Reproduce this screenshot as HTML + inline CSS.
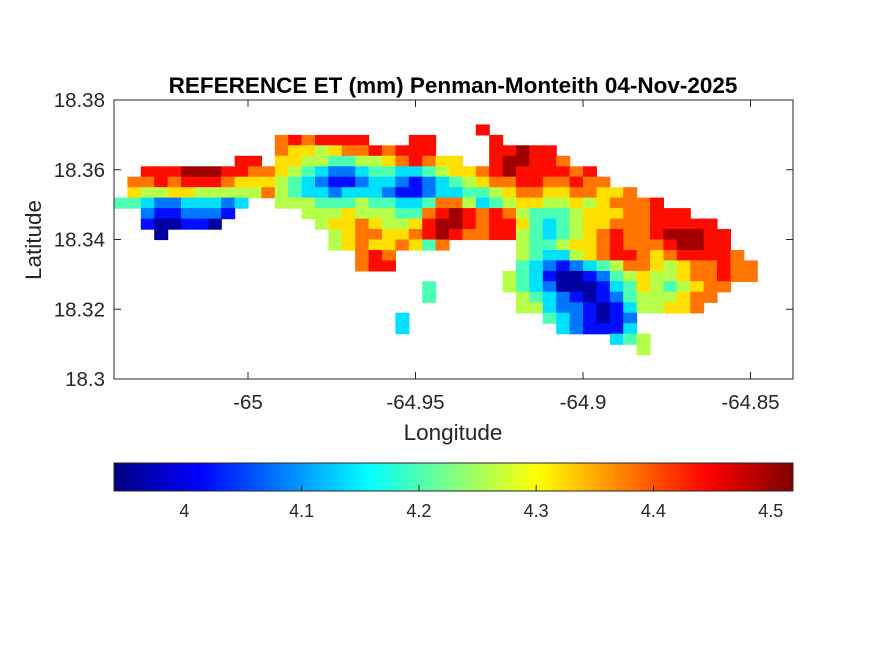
<!DOCTYPE html>
<html><head><meta charset="utf-8"><style>
body{margin:0;background:#fff;}
svg{display:block;font-family:"Liberation Sans",Arial,sans-serif;}
</style></head><body>
<svg id="fig" width="875" height="656" viewBox="0 0 875 656">
<rect width="875" height="656" fill="#fff"/>
<text x="453" y="93" text-anchor="middle" font-size="22.5" font-weight="bold" fill="#000">REFERENCE ET (mm) Penman-Monteith 04-Nov-2025</text>
<g id="map"></g>
<rect x="114" y="100" width="679" height="279" fill="none" stroke="#262626" stroke-width="1"/>
<g id="axes"></g>
<text x="453" y="440" text-anchor="middle" font-size="22.5" fill="#262626">Longitude</text>
<text transform="translate(41,240) rotate(-90)" text-anchor="middle" font-size="22.5" fill="#262626">Latitude</text>
<defs><linearGradient id="jetgrad" x1="0" x2="1" y1="0" y2="0"></linearGradient></defs>
<rect x="114" y="463" width="679" height="28" fill="url(#jetgrad)" stroke="#262626" stroke-width="1"/>
<g id="cbaxis"></g>
</svg>
<script>
// ---- data ----
const lonStart = -65.040, lonStep = 0.004;
const latTop = 18.373, latStep = 0.003;
const levelValues = [3.96,4.02,4.08,4.14,4.20,4.26,4.32,4.38,4.44,4.50];
// each row: [startColumn, level codes ('.' = no data)]
const gridRows = [
[27,"8"],
[12,"7878888...88....8"],
[12,"766567787888....88988"],
[9,"88.66554455678766..899887"],
[2,"888999887"+"7"+"65432234433456"+"67"+"89888878"],
[1,"778788876665432112332123456778877877"],
[1,"6556655555"+"7543323332"+"1123344567"+"76677667"],
[0,"4432233323"+"..55544454"+"4334775345"+"6655656777"+"8"],
[2,"2112221."+"...."+"555655544"+"7898787544456"+"6677888"],
[2,"100110"+"......."+"5667655689"+"9878864345"+"6677788888"],
[3,"0"+"............"+"5677667898"+"7788543456"+"7877899988"],
[16,"567667647"+"....."+"5445667877"+"789988"],
[18,"787"+"........."+"54335678876788887"],
[18,"788"+"........."+"432123457765677877"],
[29,"5431001245655677877"],
[23,"4"+"....."+"54320001346545677"],
[23,"4"+"......"+"543210124555677"],
[30,"55322101355667"],
[21,"3"+".........."+"4321012"],
[21,"3"+"..........."+"321113"],
[37,"345"],
[39,"5"]
];
const xTicks = [-65,-64.95,-64.9,-64.85];
const xTickLabels = ["-65","-64.95","-64.9","-64.85"];
const yTicks = [18.3,18.32,18.34,18.36,18.38];
const yTickLabels = ["18.3","18.32","18.34","18.36","18.38"];
const cTicks = [4,4.1,4.2,4.3,4.4,4.5];
const cTickLabels = ["4","4.1","4.2","4.3","4.4","4.5"];
const cMin = 3.940, cMax = 4.519;

// ---- scales ----
const X = lon => 248 + (lon + 65) / 0.05 * 167.5;
const Y = lat => 100 + (18.38 - lat) * 3487.5;
const CX = v => 114 + (v - cMin) / (cMax - cMin) * 679;
function jet(t){
  t=Math.max(0,Math.min(1,t));
  const c=v=>Math.round(255*Math.max(0,Math.min(1,v)));
  return `rgb(${c(1.5-Math.abs(4*t-3))},${c(1.5-Math.abs(4*t-2))},${c(1.5-Math.abs(4*t-1))})`;
}
const NS="http://www.w3.org/2000/svg";
function mk(tag,attrs,parent){const e=document.createElementNS(NS,tag);for(const k in attrs)e.setAttribute(k,attrs[k]);parent.appendChild(e);return e;}

// ---- map cells ----
const map=document.getElementById('map');
gridRows.forEach((row,r)=>{
  const start=row[0], codes=row[1];
  for(let i=0;i<codes.length;i++){
    const ch=codes[i]; if(ch==='.')continue;
    const v=levelValues[+ch];
    const c=start+i;
    const lon0=lonStart+c*lonStep, lat0=latTop-r*latStep;
    const x0=X(lon0), x1=X(lon0+lonStep), y0=Y(lat0), y1=Y(lat0-latStep);
    const col=jet((v-cMin)/(cMax-cMin));
    const rc=mk('rect',{x:x0.toFixed(1),y:y0.toFixed(1),width:(x1-x0+0.6).toFixed(1),height:(y1-y0+0.6).toFixed(1),fill:col},map);
    
    
  }
});

// ---- axes ----
const ax=document.getElementById('axes');
xTicks.forEach((t,i)=>{
  const x=X(t);
  mk('line',{x1:x,x2:x,y1:379,y2:372,stroke:'#262626'},ax);
  mk('line',{x1:x,x2:x,y1:100,y2:107,stroke:'#262626'},ax);
  const tx=mk('text',{x:x,y:409,'text-anchor':'middle','font-size':'20.5',fill:'#262626'},ax);
  tx.textContent=xTickLabels[i];
  
  
});
yTicks.forEach((t,i)=>{
  const y=Y(t);
  mk('line',{x1:114,x2:121,y1:y,y2:y,stroke:'#262626'},ax);
  mk('line',{x1:793,x2:786,y1:y,y2:y,stroke:'#262626'},ax);
  const tx=mk('text',{x:105,y:y+7,'text-anchor':'end','font-size':'20.5',fill:'#262626'},ax);
  tx.textContent=yTickLabels[i];
  
  
});

// ---- colorbar ----
const g=document.getElementById('jetgrad');
for(let i=0;i<=40;i++){mk('stop',{offset:(i/40).toFixed(3),'stop-color':jet(i/40)},g);}
const cb=document.getElementById('cbaxis');
cTicks.forEach((t,i)=>{
  const x=CX(t);
  mk('line',{x1:x,x2:x,y1:491,y2:485,stroke:'#262626'},cb);
  const tx=mk('text',{x:x,y:517,'text-anchor':'middle','font-size':'18',fill:'#262626'},cb);
  tx.textContent=cTickLabels[i];
  
  
});
</script>
</body></html>
